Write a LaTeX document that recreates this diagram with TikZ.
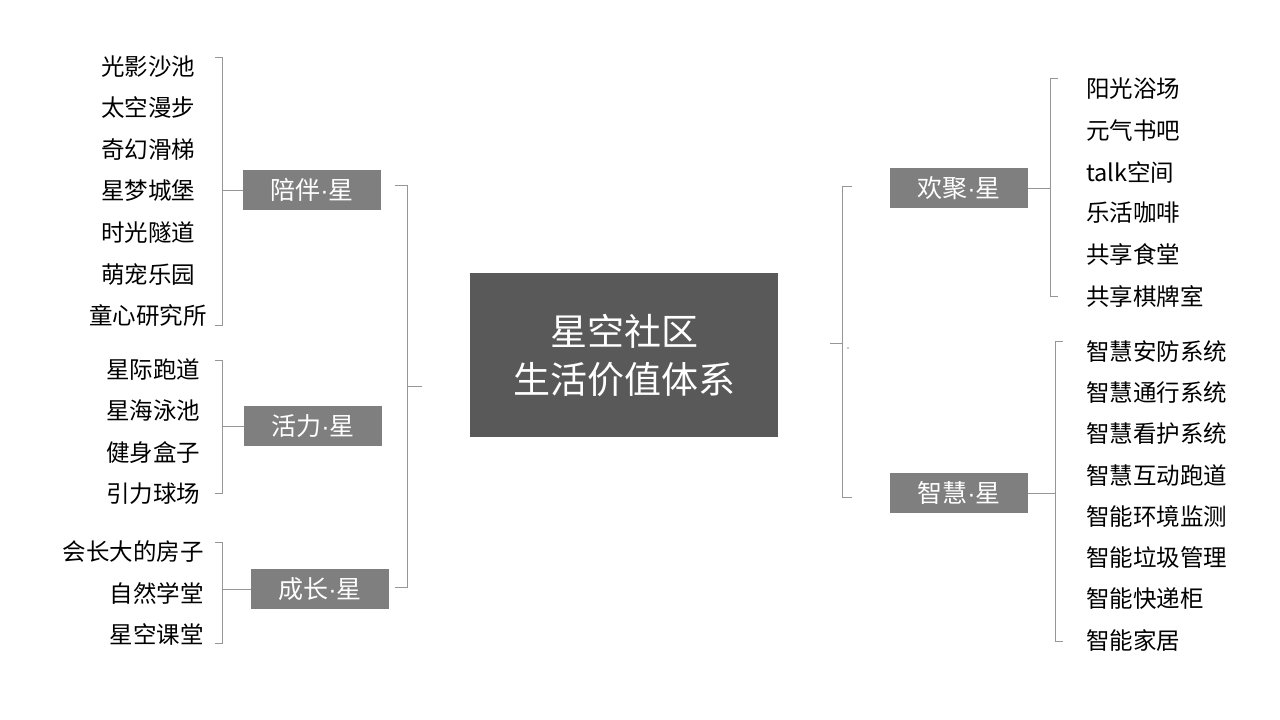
\documentclass[tikz,border=0pt]{standalone}
\usepackage{fontspec}
\setmainfont{Noto Sans CJK SC}
\newfontfamily\latinfont{Liberation Sans}
\newcommand{\mdot}{{\latinfont\textperiodcentered}}
\usetikzlibrary{positioning}
\definecolor{darkbox}{RGB}{89,89,89}
\definecolor{midbox}{RGB}{127,127,127}
\definecolor{brace}{RGB}{150,150,150}

\begin{document}
\begin{tikzpicture}[x=1pt, y=-1pt,
    item/.style={inner sep=0pt, font=\fontsize{23.5}{25}\selectfont},
    cat/.style={rectangle, fill=midbox, text=white, minimum width=138pt, minimum height=40pt, inner sep=0pt, font=\fontsize{25}{27}\selectfont},
    hub/.style={rectangle, fill=darkbox, text=white, minimum width=308pt, minimum height=164pt, align=center, font=\fontsize{37}{48}\selectfont},
    brk/.style={draw=brace, line width=0.8pt}
]
\useasboundingbox (0,0) rectangle (1280,720);

% centre
\node[hub] (core) at (624,355) {星空社区\\生活价值体系};

% left groups
\node[cat] (peiban) at (312,190) {陪伴\mdot 星};
\node[cat] (huoli) at (313,426) {活力\mdot 星};
\node[cat] (chengzhang) at (320,589) {成长\mdot 星};
\foreach \t/\y in {光影沙池/67, 太空漫步/108, 奇幻滑梯/150, 星梦城堡/191, 时光隧道/233, 萌宠乐园/274, 童心研究所/315}
  \node[item] at (148,\y) {\t};
\foreach \t/\y in {星际跑道/370, 星海泳池/411, 健身盒子/453, 引力球场/494}
  \node[item] at (153,\y) {\t};
\foreach \t/\y in {会长大的房子/552, 自然学堂/593, 星空课堂/634}
  \node[item, anchor=east] at (204,\y) {\t};

% right groups
\node[cat] (huanju) at (959,188) {欢聚\mdot 星};
\node[cat] (zhihui) at (959,493) {智慧\mdot 星};
\foreach \t/\y in {阳光浴场/89, 元气书吧/131, talk空间/172, 乐活咖啡/213, 共享食堂/255, 共享棋牌室/296}
  \node[item, anchor=west] at (1086,\y) {\t};
\foreach \t/\y in {智慧安防系统/352, 智慧通行系统/393, 智慧看护系统/434, 智慧互动跑道/476, 智能环境监测/517, 智能垃圾管理/558, 智能快递柜/599, 智能家居/640}
  \node[item, anchor=west] at (1086,\y) {\t};

% brackets, left
\draw[brk] (215,57) -- (222,57) -- (222,325) -- (215,325);
\draw[brk] (peiban.west) -- +(-21,0);
\draw[brk] (215,360) -- (222,360) -- (222,493) -- (215,493);
\draw[brk] (huoli.west) -- +(-22,0);
\draw[brk] (215,542) -- (222,542) -- (222,643) -- (215,643);
\draw[brk] (chengzhang.west) -- +(-29,0);
\draw[brk] (395,185) -- (407,185) -- (407,587) -- (395,587);
\draw[brk] (407,386) -- (422,386);

% brackets, right
\draw[brk] (852,186) -- (842,186) -- (842,497) -- (852,497);
\draw[brk] (842,343) -- (830,343);
\fill[brace] (848,348) circle (0.9);
\draw[brk] (1058,78) -- (1050,78) -- (1050,296) -- (1058,296);
\draw[brk] (huanju.east) -- +(22,0);
\draw[brk] (1063,341) -- (1055,341) -- (1055,641) -- (1063,641);
\draw[brk] (zhihui.east) -- +(27,0);
\end{tikzpicture}
\end{document}
